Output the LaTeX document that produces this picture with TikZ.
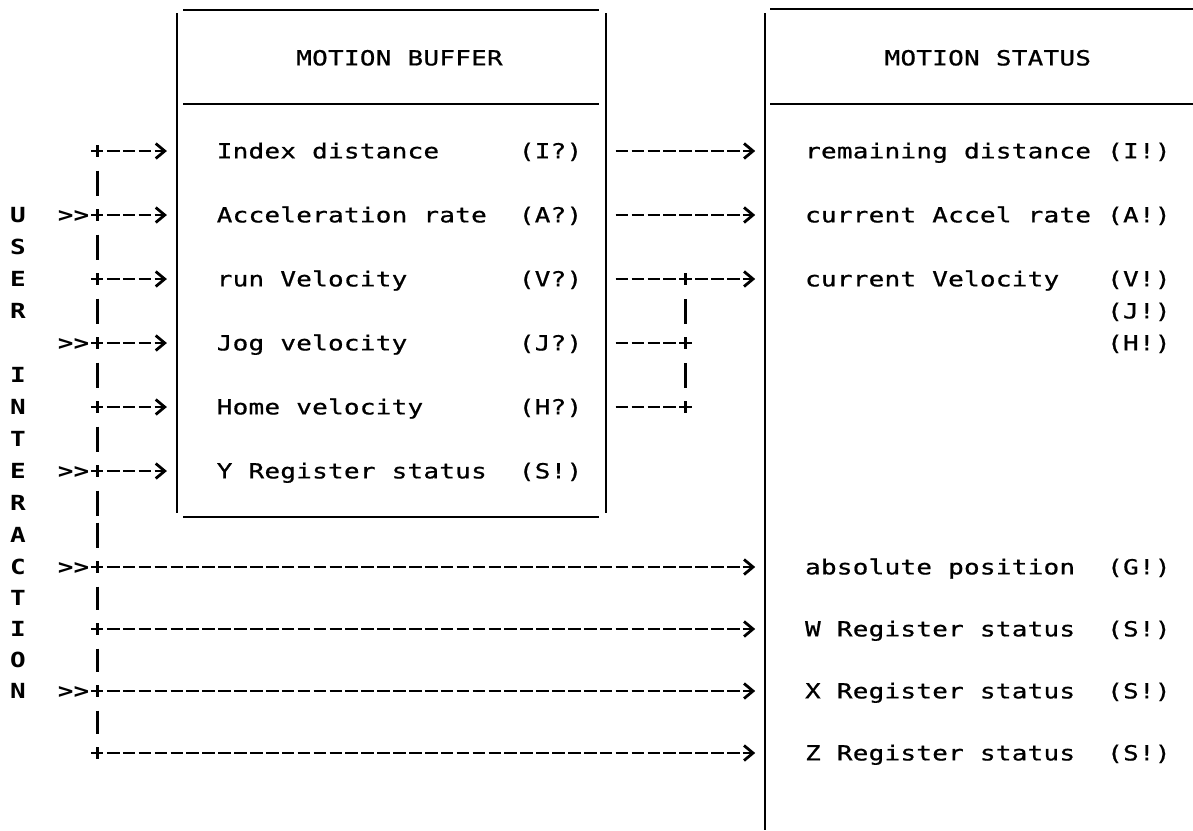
\documentclass[tikz,border=0pt]{standalone}
\usepackage{fontspec}
\usetikzlibrary{arrows.meta}
\newfontfamily\dmono[FakeStretch=1.25,FakeBold=0.8]{DejaVu Sans Mono}
\newfontfamily\dmonob[FakeStretch=1.25]{DejaVu Sans Mono Bold}
\ExplSyntaxOn
\NewDocumentCommand\gridtxt{m}{\str_map_inline:nn{#1}{\makebox[15.9pt]{##1}}}
\ExplSyntaxOff
\tikzset{
  lbl/.style={anchor=base west, inner sep=0pt, outer sep=0pt, font=\dmono\fontsize{20.8}{24}\selectfont},
  side/.style={anchor=base, inner sep=0pt, outer sep=0pt, font=\dmonob\fontsize{20.8}{24}\selectfont},
  jn/.style={minimum size=12pt, inner sep=0pt, outer sep=0pt},
  rule/.style={line width=2.6pt},
  bar/.style={line width=2.5pt},
  hdash/.style={line width=2.8pt, dash pattern=on 12.6pt off 3.3pt, shorten <=9.5pt},
  harr/.style={hdash, -{Straight Barb[length=9pt,width=15pt]}, shorten >=10pt},
  vdash/.style={line width=2.5pt, dash pattern=on 25pt off 7pt, shorten <=19.5pt, shorten >=19.5pt},
  cross/.style={line width=2.6pt}
}
\begin{document}
\begin{tikzpicture}[x=1pt,y=-1pt]
\useasboundingbox (0,0) rectangle (1193,830);
% invisible box nodes (for naming)
\node[inner sep=0pt, outer sep=0pt, minimum width=429.3pt, minimum height=507pt] (buf) at (391.55,263.5) {};
\node[inner sep=0pt, outer sep=0pt, minimum width=427.8pt, minimum height=821pt] (stat) at (979.1,419.5) {};
% box outlines
\draw[rule] (183,10) -- (599,10) (183,104) -- (599,104) (183,517) -- (599,517);
\draw[bar] (176.9,13) -- (176.9,513) (606.2,13) -- (606.2,513);
\draw[rule] (770,9) -- (1193,9) (770,104) -- (1193,104);
\draw[bar] (765.2,13) -- (765.2,830);
% headers
\node[lbl] (hbuf) at (296.15,65.4) {\gridtxt{MOTION BUFFER}};
\node[lbl] (hstat) at (884.45,65.4) {\gridtxt{MOTION STATUS}};
% buffer items
\node[lbl] (b1) at (216.65,158.4) {\gridtxt{Index distance}};
\node[lbl] (b2) at (216.65,222.4) {\gridtxt{Acceleration rate}};
\node[lbl] (b3) at (216.65,286.4) {\gridtxt{run Velocity}};
\node[lbl] (b4) at (216.65,350.4) {\gridtxt{Jog velocity}};
\node[lbl] (b5) at (216.65,414.4) {\gridtxt{Home velocity}};
\node[lbl] (b6) at (216.65,478.4) {\gridtxt{Y Register status}};
\node[lbl] (c1) at (518.75,158.4) {\gridtxt{(I?)}};
\node[lbl] (c2) at (518.75,222.4) {\gridtxt{(A?)}};
\node[lbl] (c3) at (518.75,286.4) {\gridtxt{(V?)}};
\node[lbl] (c4) at (518.75,350.4) {\gridtxt{(J?)}};
\node[lbl] (c5) at (518.75,414.4) {\gridtxt{(H?)}};
\node[lbl] (c6) at (518.75,478.4) {\gridtxt{(S!)}};
% status items
\node[lbl] (s1) at (804.95,158.4) {\gridtxt{remaining distance}};
\node[lbl] (s2) at (804.95,222.4) {\gridtxt{current Accel rate}};
\node[lbl] (s3) at (804.95,286.4) {\gridtxt{current Velocity}};
\node[lbl] (s4) at (804.95,574.4) {\gridtxt{absolute position}};
\node[lbl] (s5) at (804.95,636.4) {\gridtxt{W Register status}};
\node[lbl] (s6) at (804.95,698.4) {\gridtxt{X Register status}};
\node[lbl] (s7) at (804.95,760.4) {\gridtxt{Z Register status}};
\node[lbl] (d1) at (1107.05,158.4) {\gridtxt{(I!)}};
\node[lbl] (d2) at (1107.05,222.4) {\gridtxt{(A!)}};
\node[lbl] (d3) at (1107.05,286.4) {\gridtxt{(V!)}};
\node[lbl] (d4) at (1107.05,318.4) {\gridtxt{(J!)}};
\node[lbl] (d5) at (1107.05,350.4) {\gridtxt{(H!)}};
\node[lbl] (d6) at (1107.05,574.4) {\gridtxt{(G!)}};
\node[lbl] (d7) at (1107.05,636.4) {\gridtxt{(S!)}};
\node[lbl] (d8) at (1107.05,698.4) {\gridtxt{(S!)}};
\node[lbl] (d9) at (1107.05,760.4) {\gridtxt{(S!)}};
% user interaction side text
\foreach \l/\b [count=\i] in {U/222.4,S/254.4,E/286.4,R/318.4,I/382.4,N/414.4,T/446.4,E/478.4,R/510.4,A/542.4,C/574.4,T/605.4,I/636.4,O/667.4,N/698.4}
  \node[side] (ui\i) at (17.9,\b) {\l};
% external input markers
\foreach \b [count=\i] in {222.4,350.4,478.4,574.4,698.4}
  \node[lbl, font=\dmonob\fontsize{20.8}{24}\selectfont] (in\i) at (57.65,\b) {\gridtxt{>>}};
% junctions
\foreach \r/\y in {4/151,6/215,8/279,10/343,12/407,14/471,17/567,19/629,21/691,23/753}
  \node[jn] (jL\r) at (97.4,\y) {};
\node[jn] (jR8) at (685.7,279) {};
\node[jn] (jR10) at (685.7,343) {};
\node[jn] (jR12) at (685.7,407) {};
% left bus
\foreach \a/\b in {4/6,6/8,8/10,10/12,12/14,14/17,17/19,19/21,21/23}
  \draw[vdash] (jL\a.center) -- (jL\b.center);
% into motion buffer
\foreach \r in {4,6,8,10,12,14}
  \draw[harr] (jL\r.center) -- (jL\r.center -| buf.west);
% directly to motion status
\foreach \r in {17,19,21,23}
  \draw[harr] (jL\r.center) -- (jL\r.center -| stat.west);
% buffer to status
\draw[harr] (buf.east |- jL4.center) -- (stat.west |- jL4.center);
\draw[harr] (buf.east |- jL6.center) -- (stat.west |- jL6.center);
\draw[harr] (buf.east |- jR8.center) -- (stat.west |- jR8.center);
\draw[hdash] (buf.east |- jR10.center) -- (jR10.center);
\draw[hdash] (buf.east |- jR12.center) -- (jR12.center);
\draw[vdash] (jR12.center) -- (jR10.center);
\draw[vdash] (jR10.center) -- (jR8.center);
% plus marks
\foreach \n in {jL4,jL6,jL8,jL10,jL12,jL14,jL17,jL19,jL21,jL23,jR8,jR10,jR12}
  \draw[cross] (\n.west) -- (\n.east) (\n.north) -- (\n.south);
\end{tikzpicture}
\end{document}
